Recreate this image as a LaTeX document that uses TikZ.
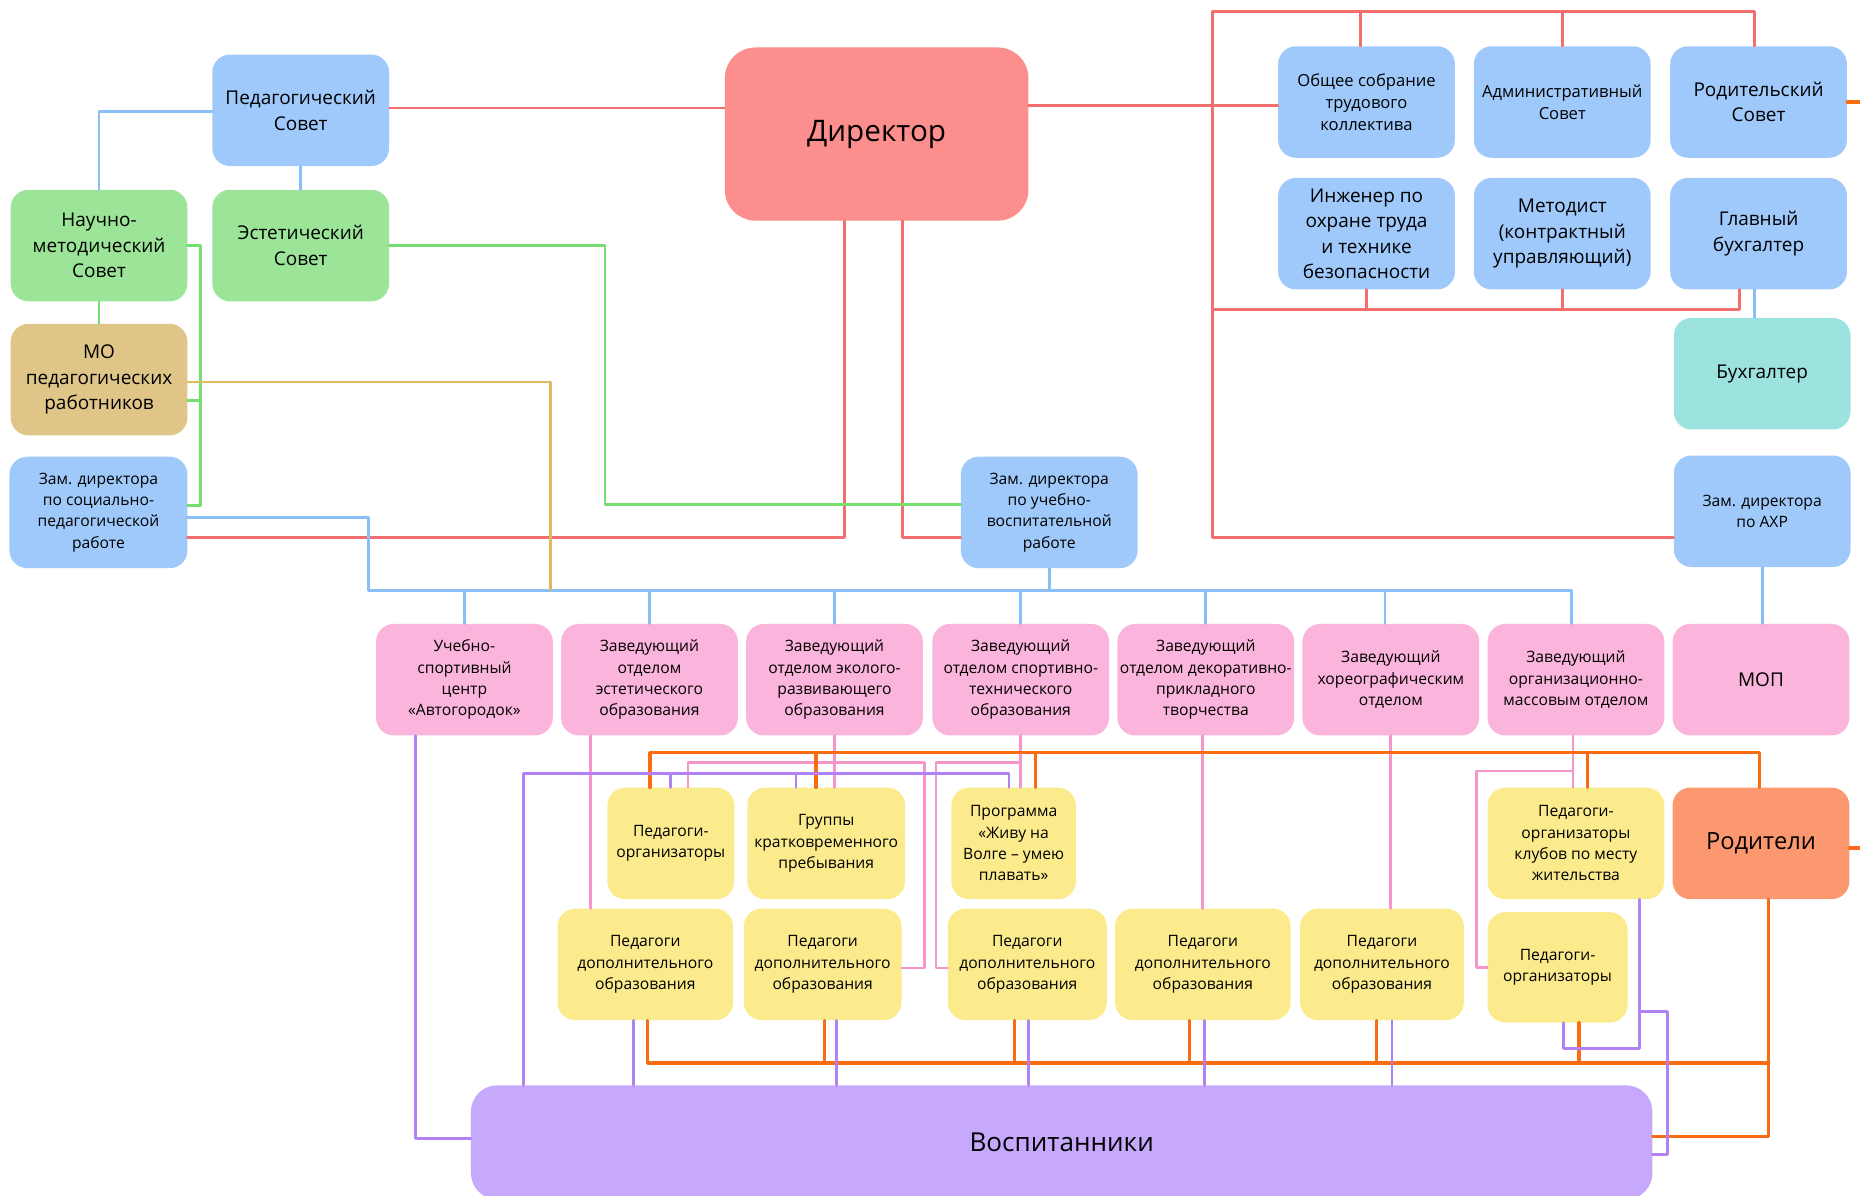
\documentclass[tikz,border=0pt]{standalone}
\usepackage{fontspec}
\setmainfont{Open Sans}
\definecolor{cBlue}{RGB}{160,201,251}
\definecolor{cGreen}{RGB}{155,228,152}
\definecolor{cGold}{RGB}{224,197,137}
\definecolor{cDir}{RGB}{252,143,141}
\definecolor{cTeal}{RGB}{156,226,222}
\definecolor{cPink}{RGB}{251,180,219}
\definecolor{cYellow}{RGB}{252,235,141}
\definecolor{cOrangeBox}{RGB}{252,152,112}
\definecolor{cPurple}{RGB}{198,169,252}
\definecolor{lRed}{RGB}{243,110,110}
\definecolor{lBlue}{RGB}{138,190,246}
\definecolor{lGreen}{RGB}{118,222,110}
\definecolor{lGold}{RGB}{222,187,92}
\definecolor{lPink}{RGB}{245,150,202}
\definecolor{lOrange}{RGB}{250,108,20}
\definecolor{lPurple}{RGB}{176,130,246}
\begin{document}
\begin{tikzpicture}[x=1pt,y=-1pt,
  box/.style={rounded corners=15pt, minimum width=149pt, minimum height=94pt, inner sep=1pt, align=center, text=black},
  bluebox/.style={box, fill=cBlue},
  greenbox/.style={box, fill=cGreen},
  goldbox/.style={box, fill=cGold},
  tealbox/.style={box, fill=cTeal},
  pinkbox/.style={box, fill=cPink},
  yellowbox/.style={box, fill=cYellow},
  f13/.style={font=\fontsize{13.2}{18}\selectfont},
  f14/.style={font=\fontsize{14}{18.5}\selectfont},
  f16/.style={font=\fontsize{16}{21.5}\selectfont},
  ln/.style={line width=2.4pt, line cap=round, line join=round},
  redl/.style={ln, draw=lRed},
  bluel/.style={ln, draw=lBlue},
  greenl/.style={ln, draw=lGreen},
  goldl/.style={ln, draw=lGold},
  pinkl/.style={ln, draw=lPink},
  orangel/.style={ln, draw=lOrange, line width=2.8pt},
  purplel/.style={ln, draw=lPurple}]
\useasboundingbox[fill=white] (0,0) rectangle (1568,1008);

% ---------- nodes ----------
\node[bluebox, f16] (ped) at (253.5,93) {Педагогический\\Совет};
\node[greenbox, f16] (nms) at (83.5,207) {Научно-\\методический\\Совет};
\node[greenbox, f16] (est) at (253.5,207) {Эстетический\\Совет};
\node[goldbox, f16] (mo) at (83.5,320) {МО\\педагогических\\работников};
\node[bluebox, f13, minimum width=150pt] (zsoc) at (83,432) {Зам. директора\\по социально-\\педагогической\\работе};
\node[box, fill=cDir, rounded corners=26pt, minimum width=256pt, minimum height=146pt, font=\fontsize{25}{30}\selectfont] (dir) at (739,113) {Директор};
\node[bluebox, f14] (obs) at (1152,86) {Общее собрание\\трудового\\коллектива};
\node[bluebox, f14] (adm) at (1317,86) {Административный\\Совет};
\node[bluebox, f16] (rods) at (1482.5,86) {Родительский\\Совет};
\node[bluebox, f16] (ing) at (1152,197) {Инженер по\\охране труда\\и технике\\безопасности};
\node[bluebox, f16] (met) at (1317,197) {Методист\\(контрактный\\управляющий)};
\node[bluebox, f16] (glb) at (1482.5,197) {Главный\\бухгалтер};
\node[tealbox, f16] (buh) at (1485.5,315) {Бухгалтер};
\node[bluebox, f13] (zahr) at (1485.5,431) {Зам. директора\\по АХР};
\node[bluebox, f13] (zuvr) at (884.5,432) {Зам. директора\\по учебно-\\воспитательной\\работе};

\node[pinkbox, f13] (p1) at (391.5,573) {Учебно-\\спортивный\\центр\\«Автогородок»};
\node[pinkbox, f13] (p2) at (547.5,573) {Заведующий\\отделом\\эстетического\\образования};
\node[pinkbox, f13] (p3) at (703.5,573) {Заведующий\\отделом эколого-\\развивающего\\образования};
\node[pinkbox, f13] (p4) at (860.5,573) {Заведующий\\отделом спортивно-\\технического\\образования};
\node[pinkbox, f13] (p5) at (1016.5,573) {Заведующий\\отделом декоративно-\\прикладного\\творчества};
\node[pinkbox, f13] (p6) at (1172.5,573) {Заведующий\\хореографическим\\отделом};
\node[pinkbox, f13] (p7) at (1328.5,573) {Заведующий\\организационно-\\массовым отделом};
\node[pinkbox, f16] (mop) at (1484.5,573) {МОП};

\node[yellowbox, f13, minimum width=107pt] (y1) at (565.5,711) {Педагоги-\\организаторы};
\node[yellowbox, f13, minimum width=133pt] (y2) at (696.5,711) {Группы\\кратковременного\\пребывания};
\node[yellowbox, f13, minimum width=105pt] (y3) at (854.5,711) {Программа\\«Живу на\\Волге – умею\\плавать»};
\node[yellowbox, f13] (y4) at (1328.5,711) {Педагоги-\\организаторы\\клубов по месту\\жительства};
\node[box, fill=cOrangeBox, font=\fontsize{20}{24}\selectfont] (rodi) at (1484.5,711) {Родители};

\node[yellowbox, f13, minimum width=148pt] (d1) at (544,813) {Педагоги\\дополнительного\\образования};
\node[yellowbox, f13, minimum width=133pt] (d2) at (693.5,813) {Педагоги\\дополнительного\\образования};
\node[yellowbox, f13, minimum width=134pt] (d3) at (866,813) {Педагоги\\дополнительного\\образования};
\node[yellowbox, f13, minimum width=148pt] (d4) at (1014,813) {Педагоги\\дополнительного\\образования};
\node[yellowbox, f13, minimum width=138pt] (d5) at (1165,813) {Педагоги\\дополнительного\\образования};
\node[yellowbox, f13, minimum width=118pt, minimum height=93pt] (y6) at (1313,815.5) {Педагоги-\\организаторы};

\node[box, fill=cPurple, rounded corners=22pt, minimum width=996pt, minimum height=96pt, font=\fontsize{22}{26}\selectfont] (vos) at (895,963) {Воспитанники};

% ---------- helper coordinates ----------
\coordinate (ftl) at (1022,9.5);
\coordinate (fml) at (1022,261);
\coordinate (fbl) at (1022,453);
\coordinate (gv) at (169,0);
\coordinate (gx) at (510,0);
\coordinate (goldend) at (464,497);
\coordinate (bl) at (311,498);
\coordinate (br) at (1325,498);
\coordinate (pk1) at (580,643);
\coordinate (pk2) at (779,643);
\coordinate (pk3) at (789,643);
\coordinate (pk4) at (1245,650);
\coordinate (ou1) at (548,634.5);
\coordinate (ou2) at (1483,634.5);
\coordinate (ol1) at (546,896);
\coordinate (ol2) at (1491,896);
\coordinate (pu1) at (441.5,652);
\coordinate (pu2) at (850.6,652);
\coordinate (pv1) at (1382,884);
\coordinate (pv2) at (1382,853);
\coordinate (pv3) at (1406,853);
\coordinate (edge) at (1568,0);

% ---------- red ----------
\draw[redl] ([yshift=2pt]ped.east) -- ([yshift=2pt]ped.east -| dir.west);
\draw[redl] ([yshift=24pt]dir.east) -- ([yshift=24pt]dir.east -| obs.west);
\draw[redl] ([xshift=-5pt]obs.north) -- ([xshift=-5pt]obs.north |- ftl);
\draw[redl] (adm.north) -- (adm.north |- ftl);
\draw[redl] ([xshift=-3.5pt]rods.north) |- (ftl) -- (fbl) -- (fbl -| zahr.west);
\draw[redl] (fml) -| ([xshift=-16pt]glb.south);
\draw[redl] (ing.south) -- (ing.south |- fml);
\draw[redl] (met.south) -- (met.south |- fml);
\draw[redl] ([xshift=-27pt]dir.south) |- ([yshift=-21pt]zsoc.east);
\draw[redl] ([xshift=22pt]dir.south) |- ([yshift=-21pt]zuvr.west);

% ---------- blue ----------
\draw[bluel] ([yshift=-1pt]ped.west) -| (nms.north);
\draw[bluel] (ped.south) -- (est.north);
\draw[bluel] ([xshift=-3.5pt]glb.south) -- ([xshift=-3.5pt]glb.south |- buh.north);
\draw[bluel] (zahr.south) -- (zahr.south |- mop.north);
\draw[bluel] (zuvr.south) -- (zuvr.south |- bl);
\draw[bluel] ([yshift=-4pt]zsoc.east) -| (bl) -- (br) -- (br |- p7.north);
\foreach \p in {p1,p2,p3,p4,p5}
  \draw[bluel] (\p.north) -- (\p.north |- bl);
\draw[bluel] ([xshift=-5pt]p6.north) -- ([xshift=-5pt]p6.north |- bl);

% ---------- green ----------
\draw[greenl] (nms.south) -- (mo.north);
\draw[greenl] (nms.east) -- (nms.east -| gv) |- ([yshift=6pt]zsoc.east);
\draw[greenl] ([yshift=-17.5pt]mo.east) -- ([yshift=-17.5pt]mo.east -| gv);
\draw[greenl] (est.east) -- (est.east -| gx) |- ([yshift=7pt]zuvr.west);

% ---------- gold ----------
\draw[goldl] ([yshift=-2pt]mo.east) -| (goldend);

% ---------- pink ----------
\draw[pinkl] ([xshift=-49.5pt]p2.south) -- ([xshift=-49.5pt]p2.south |- d1.north);
\draw[pinkl] (p3.south) -- (p3.south |- y2.north);
\draw[pinkl] (y1.north -| pk1) -- (pk1) -- (pk2) |- ([yshift=-3pt]d2.east);
\draw[pinkl] (p4.south) -- (p4.south |- y3.north);
\draw[pinkl] (p4.south |- pk3) -- (pk3) |- ([yshift=-3pt]d3.west);
\draw[pinkl] ([xshift=-2.5pt]p5.south) -- ([xshift=-2.5pt]p5.south |- d4.north);
\draw[pinkl] (p6.south) -- (p6.south |- d5.north);
\draw[pinkl] ([xshift=-2.5pt]p7.south) -- ([xshift=-2.5pt]p7.south |- y4.north);
\draw[pinkl] ([xshift=-2.5pt]p7.south |- pk4) -- (pk4) |- (y6.west);

% ---------- orange ----------
\draw[orangel] (y1.north -| ou1) -- (ou1) -- (ou2) -- (rodi.north -| ou2);
\draw[orangel] ([xshift=-8.5pt]y2.north) -- ([xshift=-8.5pt]y2.north |- ou1);
\draw[orangel] ([xshift=18.5pt]y3.north) -- ([xshift=18.5pt]y3.north |- ou1);
\draw[orangel] ([xshift=9.5pt]y4.north) -- ([xshift=9.5pt]y4.north |- ou1);
\draw[orangel] (d1.south -| ol1) -- (ol1) -- (ol2);
\draw[orangel] ([xshift=6.5pt]rodi.south) |- ([yshift=5pt]vos.east);
\draw[orangel] ([xshift=1.5pt]d2.south) -- ([xshift=1.5pt]d2.south |- ol1);
\draw[orangel] ([xshift=-11pt]d3.south) -- ([xshift=-11pt]d3.south |- ol1);
\draw[orangel] ([xshift=-11.5pt]d4.south) -- ([xshift=-11.5pt]d4.south |- ol1);
\draw[orangel] ([xshift=-4.5pt]d5.south) -- ([xshift=-4.5pt]d5.south |- ol1);
\draw[orangel] ([xshift=18pt]y6.south) -- ([xshift=18pt]y6.south |- ol1);
\draw[orangel] (rods.east) -- (rods.east -| edge);
\draw[orangel] ([yshift=-4pt]rodi.east) -- ([yshift=-4pt]rodi.east -| edge);

% ---------- purple ----------
\draw[purplel] ([xshift=-41pt]p1.south) |- ([yshift=3pt]vos.west);
\draw[purplel] (vos.north -| pu1) -- (pu1) -- (pu2) -- (pu2 |- y3.north);
\draw[purplel] (y1.north) -- (y1.north |- pu1);
\draw[purplel] ([xshift=-25.5pt]y2.north) -- ([xshift=-25.5pt]y2.north |- pu1);
\draw[purplel] ([xshift=-10pt]d1.south) -- ([xshift=-10pt]d1.south |- vos.north);
\draw[purplel] ([xshift=11.8pt]d2.south) -- ([xshift=11.8pt]d2.south |- vos.north);
\draw[purplel] ([xshift=1pt]d3.south) -- ([xshift=1pt]d3.south |- vos.north);
\draw[purplel] ([xshift=1.5pt]d4.south) -- ([xshift=1.5pt]d4.south |- vos.north);
\draw[purplel] ([xshift=8.5pt]d5.south) -- ([xshift=8.5pt]d5.south |- vos.north);
\draw[purplel] ([xshift=53.5pt]y4.south) -- (pv1) -| ([xshift=5pt]y6.south);
\draw[purplel] (pv2) -- (pv3) |- ([yshift=-10pt]vos.east);
\end{tikzpicture}
\end{document}
